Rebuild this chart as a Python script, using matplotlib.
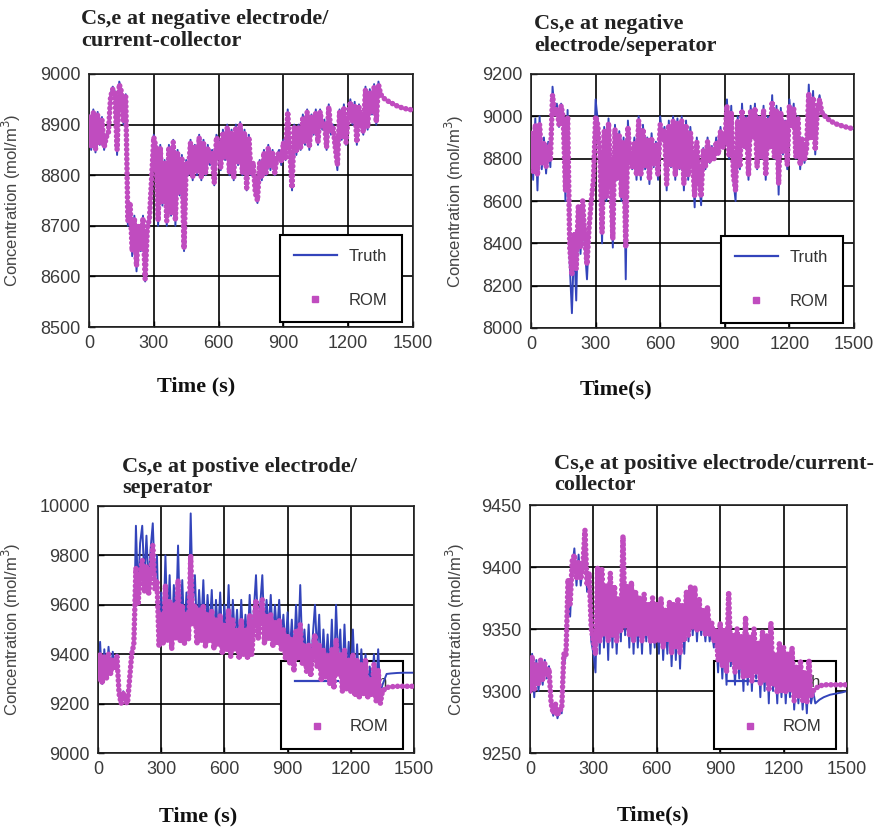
import numpy as np
from matplotlib import pyplot as plt
from matplotlib.lines import Line2D

# time base shared by the four plots (s)
time_s = [
    0, 10, 20, 30, 40, 50, 60, 70, 80, 90,
    100, 110, 120, 130, 140, 150, 160, 170, 180, 190,
    200, 210, 220, 230, 240, 250, 260, 270, 280, 290,
    300, 310, 320, 330, 340, 350, 360, 370, 380, 390,
    400, 410, 420, 430, 440, 450, 460, 470, 480, 490,
    500, 510, 520, 530, 540, 550, 560, 570, 580, 590,
    600, 610, 620, 630, 640, 650, 660, 670, 680, 690,
    700, 710, 720, 730, 740, 750, 760, 770, 780, 790,
    800, 810, 820, 830, 840, 850, 860, 870, 880, 890,
    900, 910, 920, 930, 940, 950, 960, 970, 980, 990,
    1000, 1010, 1020, 1030, 1040, 1050, 1060, 1070, 1080, 1090,
    1100, 1110, 1120, 1130, 1140, 1150, 1160, 1170, 1180, 1190,
    1200, 1210, 1220, 1230, 1240, 1250, 1260, 1270, 1280, 1290,
    1300, 1310, 1320, 1330, 1340, 1350,
    1370, 1390, 1420, 1450, 1480, 1500,
]

# negative electrode / current-collector
neg_cc_truth = [
    8920, 8850, 8930, 8845, 8925, 8860, 8915, 8850, 8880, 8890,
    8960, 8975, 8965, 8840, 8985, 8970, 8900, 8960, 8700, 8740,
    8640, 8720, 8610, 8700, 8650, 8720, 8590, 8700, 8720, 8800,
    8880, 8860, 8700, 8860, 8740, 8830, 8700, 8860, 8720, 8870,
    8700, 8850, 8760, 8840, 8650, 8830, 8800, 8870, 8790, 8860,
    8800, 8880, 8790, 8870, 8800, 8860, 8820, 8850, 8780, 8880,
    8870, 8810, 8890, 8830, 8900, 8800, 8890, 8790, 8900, 8820,
    8905, 8800, 8890, 8770, 8880, 8800, 8820, 8760, 8745, 8830,
    8790, 8850, 8800, 8860, 8810, 8850, 8800, 8840, 8850, 8820,
    8870, 8830, 8930, 8840, 8770, 8900, 8840, 8900, 8850, 8920,
    8860, 8930, 8850, 8920, 8880, 8930, 8860, 8930, 8890, 8910,
    8850, 8940, 8880, 8900, 8850, 8810, 8930, 8870, 8940, 8860,
    8920, 8950, 8900, 8945, 8860, 8940, 8900, 8880, 8975, 8890,
    8970, 8920, 8980, 8900, 8985, 8960,
    8950, 8945, 8938, 8933, 8930, 8929,
]
neg_cc_rom = [
    8915, 8855, 8925, 8850, 8920, 8865, 8910, 8855, 8875, 8885,
    8955, 8970, 8960, 8850, 8980, 8965, 8905, 8955, 8710, 8745,
    8650, 8715, 8620, 8700, 8655, 8715, 8595, 8695, 8715, 8795,
    8875, 8855, 8710, 8855, 8745, 8825, 8710, 8855, 8725, 8865,
    8710, 8845, 8765, 8835, 8655, 8825, 8805, 8865, 8795, 8855,
    8805, 8875, 8795, 8865, 8805, 8855, 8825, 8845, 8785, 8875,
    8865, 8815, 8885, 8835, 8895, 8805, 8885, 8795, 8895, 8825,
    8900, 8805, 8885, 8775, 8875, 8805, 8825, 8765, 8750, 8825,
    8795, 8845, 8805, 8855, 8815, 8845, 8805, 8835, 8845, 8825,
    8865, 8835, 8925, 8845, 8775, 8895, 8845, 8895, 8855, 8915,
    8865, 8925, 8855, 8915, 8885, 8925, 8865, 8925, 8895, 8905,
    8855, 8935, 8885, 8895, 8855, 8820, 8925, 8875, 8935, 8865,
    8915, 8945, 8905, 8940, 8865, 8935, 8905, 8885, 8970, 8895,
    8965, 8925, 8975, 8905, 8980, 8960,
    8950, 8945, 8938, 8933, 8930, 8929,
]

# negative electrode / separator
neg_sep_truth = [
    8920, 8700, 8990, 8650, 9000, 8750, 8900, 8730, 8880, 8760,
    9140, 9020, 9060, 8950, 9060, 9000, 8600, 9030, 8300, 8070,
    8400, 8130, 8560, 8350, 8600, 8380, 8230, 8450, 8620, 8700,
    9080, 8980, 8800, 8400, 8950, 8600, 8990, 8700, 8380, 8960,
    8700, 8930, 8600, 8900, 8230, 8980, 8800, 8750, 8900, 8700,
    9000, 8700, 8960, 8750, 8900, 8680, 8920, 8760, 8880, 8700,
    9000, 8900, 8950, 8650, 8980, 8760, 9000, 8700, 8990, 8750,
    9000, 8650, 8980, 8700, 8950, 8800, 8570, 8900, 8700, 8580,
    8850, 8750, 8900, 8780, 8860, 8800, 8900, 8820, 8950, 8850,
    8880, 9080, 8800, 9050, 8700, 8600, 9000, 8750, 9060, 8850,
    9000, 8700, 9050, 8900, 9060, 8750, 9000, 8800, 9050, 8700,
    9000, 8850, 9100, 8800, 9050, 8630, 9040, 8820, 8980, 8750,
    9080, 8950, 9060, 8800, 9000, 8750, 8900, 8780, 8850, 9150,
    8900, 9120, 8820, 9050, 9100, 9030,
    9000, 8980, 8965, 8955, 8945, 8940,
]
neg_sep_rom = [
    8920, 8740, 8960, 8720, 8960, 8780, 8880, 8760, 8860, 8790,
    9100, 9010, 9040, 8960, 9050, 8990, 8650, 9000, 8380, 8250,
    8450, 8280, 8580, 8380, 8600, 8420, 8300, 8480, 8600, 8700,
    9000, 8960, 8810, 8450, 8930, 8620, 8970, 8710, 8420, 8940,
    8710, 8910, 8620, 8880, 8380, 8950, 8800, 8760, 8880, 8720,
    8980, 8720, 8940, 8760, 8890, 8700, 8900, 8770, 8870, 8720,
    8960, 8890, 8930, 8680, 8960, 8770, 8980, 8720, 8970, 8760,
    8980, 8680, 8960, 8720, 8930, 8800, 8620, 8880, 8710, 8620,
    8840, 8760, 8880, 8790, 8850, 8800, 8880, 8820, 8930, 8850,
    8870, 9050, 8810, 9020, 8720, 8650, 8980, 8760, 9030, 8850,
    8990, 8720, 9030, 8900, 9040, 8760, 8990, 8810, 9030, 8720,
    8990, 8850, 9070, 8810, 9030, 8680, 9020, 8830, 8970, 8770,
    9050, 8950, 9040, 8810, 8990, 8770, 8890, 8790, 8850, 9110,
    8900, 9090, 8840, 9040, 9080, 9020,
    8995, 8978, 8963, 8953, 8945, 8940,
]

# positive electrode / separator
pos_sep_truth = [
    9300, 9450, 9280, 9420, 9300, 9430, 9320, 9410, 9340, 9400,
    9250, 9200, 9250, 9210, 9200, 9300, 9420, 9450, 9920, 9650,
    9850, 9920, 9700, 9880, 9680, 9830, 9930, 9700, 9800, 9450,
    9650, 9480, 9800, 9500, 9720, 9450, 9680, 9520, 9840, 9500,
    9700, 9480, 9650, 9520, 9970, 9600, 9720, 9480, 9660, 9500,
    9700, 9470, 9640, 9500, 9660, 9450, 9620, 9480, 9650, 9440,
    9600, 9450, 9680, 9420, 9620, 9460, 9580, 9420, 9620, 9440,
    9560, 9430, 9640, 9450, 9580, 9720, 9500, 9600, 9720, 9480,
    9620, 9500, 9640, 9460, 9600, 9480, 9620, 9450, 9560, 9420,
    9570, 9400, 9540, 9380, 9600, 9420, 9680, 9400, 9500, 9360,
    9520, 9330, 9480, 9600, 9400, 9560, 9320, 9500, 9340, 9480,
    9320, 9540, 9300, 9600, 9380, 9500, 9280, 9520, 9300, 9450,
    9300, 9500, 9280, 9440, 9260, 9420, 9290, 9400, 9260, 9350,
    9280, 9400, 9260, 9420, 9240, 9275,
    9320, 9322, 9324, 9325, 9325, 9325,
]
pos_sep_rom = [
    9300, 9400, 9280, 9390, 9300, 9400, 9320, 9380, 9340, 9390,
    9240, 9200, 9240, 9210, 9200, 9300, 9400, 9440, 9750, 9600,
    9720, 9780, 9650, 9760, 9640, 9720, 9840, 9660, 9700, 9430,
    9560, 9440, 9680, 9450, 9620, 9420, 9600, 9460, 9700, 9450,
    9600, 9440, 9560, 9460, 9800, 9520, 9600, 9440, 9580, 9450,
    9600, 9430, 9560, 9450, 9580, 9420, 9540, 9440, 9560, 9400,
    9520, 9420, 9580, 9390, 9540, 9420, 9500, 9380, 9540, 9400,
    9500, 9380, 9560, 9400, 9520, 9620, 9460, 9540, 9620, 9440,
    9560, 9460, 9560, 9430, 9530, 9440, 9540, 9420, 9500, 9380,
    9480, 9360, 9460, 9330, 9500, 9380, 9520, 9360, 9440, 9330,
    9440, 9310, 9420, 9480, 9350, 9440, 9290, 9420, 9300, 9400,
    9280, 9420, 9260, 9460, 9320, 9400, 9250, 9420, 9260, 9380,
    9250, 9400, 9230, 9380, 9220, 9360, 9240, 9380, 9220, 9300,
    9230, 9360, 9210, 9340, 9200, 9250,
    9265, 9268, 9270, 9270, 9270, 9270,
]

# positive electrode / current-collector
pos_cc_truth = [
    9300, 9330, 9295, 9325, 9300, 9320, 9305, 9325, 9310, 9320,
    9290, 9280, 9290, 9278, 9285, 9282, 9320, 9330, 9380, 9360,
    9400, 9415, 9385, 9410, 9385, 9400, 9420, 9380, 9390, 9340,
    9330, 9315, 9390, 9330, 9395, 9335, 9380, 9325, 9390, 9335,
    9380, 9330, 9370, 9340, 9410, 9345, 9380, 9335, 9385, 9330,
    9375, 9335, 9370, 9330, 9375, 9340, 9365, 9330, 9370, 9335,
    9365, 9330, 9370, 9325, 9360, 9330, 9370, 9320, 9365, 9325,
    9370, 9318, 9365, 9330, 9375, 9340, 9380, 9345, 9380, 9340,
    9370, 9345, 9360, 9340, 9365, 9340, 9350, 9335, 9345, 9315,
    9350, 9310, 9345, 9305, 9375, 9320, 9340, 9305, 9345, 9310,
    9340, 9300, 9355, 9305, 9340, 9300, 9345, 9310, 9335, 9295,
    9345, 9300, 9340, 9290, 9350, 9300, 9325, 9290, 9335, 9295,
    9330, 9290, 9325, 9295, 9330, 9285, 9315, 9290, 9320, 9285,
    9310, 9282, 9320, 9290, 9300, 9290,
    9293, 9295, 9297, 9298, 9299, 9300,
]
pos_cc_rom = [
    9300, 9328, 9300, 9322, 9305, 9325, 9308, 9322, 9312, 9318,
    9290, 9282, 9290, 9280, 9285, 9285, 9330, 9328, 9390, 9370,
    9405, 9410, 9390, 9405, 9390, 9400, 9430, 9385, 9395, 9350,
    9340, 9330, 9400, 9340, 9398, 9345, 9385, 9340, 9395, 9345,
    9385, 9340, 9375, 9348, 9425, 9352, 9385, 9345, 9388, 9340,
    9380, 9345, 9375, 9340, 9378, 9345, 9370, 9340, 9375, 9340,
    9370, 9340, 9375, 9335, 9365, 9340, 9372, 9330, 9370, 9335,
    9375, 9330, 9370, 9340, 9380, 9345, 9385, 9350, 9384, 9348,
    9375, 9350, 9365, 9345, 9368, 9345, 9355, 9340, 9350, 9325,
    9355, 9320, 9350, 9315, 9380, 9325, 9345, 9315, 9350, 9318,
    9345, 9310, 9360, 9312, 9345, 9308, 9350, 9315, 9340, 9305,
    9348, 9308, 9345, 9300, 9355, 9305, 9330, 9298, 9338, 9300,
    9335, 9298, 9330, 9300, 9335, 9292, 9320, 9295, 9325, 9292,
    9315, 9290, 9325, 9295, 9300, 9302,
    9304, 9305, 9305, 9305, 9305, 9305,
]

titles = [
    'Cs,e at negative electrode/\ncurrent-collector',
    'Cs,e at negative\nelectrode/seperator',
    'Cs,e at postive electrode/\nseperator',
    'Cs,e at positive electrode/current-\ncollector',
]
xlabels = ['Time (s)', 'Time(s)', 'Time (s)', 'Time(s)']
x_ticks = [0, 300, 600, 900, 1200, 1500]
y_ticks = [
    [8500, 8600, 8700, 8800, 8900, 9000],
    [8000, 8200, 8400, 8600, 8800, 9000, 9200],
    [9000, 9200, 9400, 9600, 9800, 10000],
    [9250, 9300, 9350, 9400, 9450],
]
truth_series = [neg_cc_truth, neg_sep_truth, pos_sep_truth, pos_cc_truth]
rom_series = [neg_cc_rom, neg_sep_rom, pos_sep_rom, pos_cc_rom]

truth_color = '#3344bb'
rom_color = '#c04cbf'
W, H = 876, 831

# axes boxes in pixels: left, top, right, bottom
boxes = [(89, 74, 413, 327), (531, 74, 854, 328), (98, 506, 414, 753), (530, 505, 847, 753)]
title_pos = [(81, 9), (534, 14), (122, 457), (554, 454)]
xlabel_pos = [(196, 386), (616, 389), (198, 816), (653, 815)]
ylabel_x = [-0.204, -0.201, -0.237, -0.199]

fig = plt.figure(figsize=(W / 100, H / 100), dpi=100)

for k in range(4):
    l, t, r, b = boxes[k]
    ax = fig.add_axes([l / W, 1 - b / H, (r - l) / W, (b - t) / H])

    ax.plot(time_s, truth_series[k], color=truth_color, lw=1.4, zorder=2)
    ax.plot(time_s, rom_series[k], color=rom_color, lw=4.0,
            linestyle=(0, (0.01, 0.85)), dash_capstyle='round', zorder=3)

    ax.set_xlim(0, 1500)
    ax.set_ylim(y_ticks[k][0], y_ticks[k][-1])
    ax.set_xticks(x_ticks)
    ax.set_yticks(y_ticks[k])
    ax.grid(True, color='black', lw=1.2)
    for s in ax.spines.values():
        s.set_linewidth(1.2)
        s.set_color('#222222')
    ax.tick_params(direction='in', length=4, width=1, labelsize=13,
                   labelcolor='#3a3a3a', pad=6)
    for lab in ax.get_xticklabels() + ax.get_yticklabels():
        lab.set_family('Liberation Sans')

    ax.set_ylabel('Concentration (mol/m$^3$)', fontsize=12, color='#444444',
                  family='Liberation Sans')
    ax.yaxis.set_label_coords(ylabel_x[k], 0.5)

    handles = [Line2D([], [], color=truth_color, lw=1.6),
               Line2D([], [], color=rom_color, marker='s', ms=4, ls='none')]
    leg = ax.legend(handles, ['Truth', 'ROM'], loc='lower right',
                    bbox_to_anchor=(0.965, 0.018), borderaxespad=0,
                    fancybox=False, edgecolor='black', framealpha=1,
                    prop={'family': 'Liberation Sans', 'size': 12},
                    borderpad=0.85, labelspacing=1.75, handlelength=2.6,
                    handletextpad=0.7, numpoints=1)
    leg.get_frame().set_linewidth(1.5)
    for txt in leg.get_texts():
        txt.set_color('#333333')
    leg.set_zorder(1.8)

    tx, ty = title_pos[k]
    fig.text(tx / W, 1 - ty / H, titles[k], ha='left', va='top', fontsize=16,
             fontweight='bold', family='Liberation Serif', color='#222222',
             linespacing=1.1)
    lx, ly = xlabel_pos[k]
    fig.text(lx / W, 1 - ly / H, xlabels[k], ha='center', va='center',
             fontsize=16, fontweight='bold', family='Liberation Serif',
             color='#111111')

fig.savefig('out.png', dpi=100)
